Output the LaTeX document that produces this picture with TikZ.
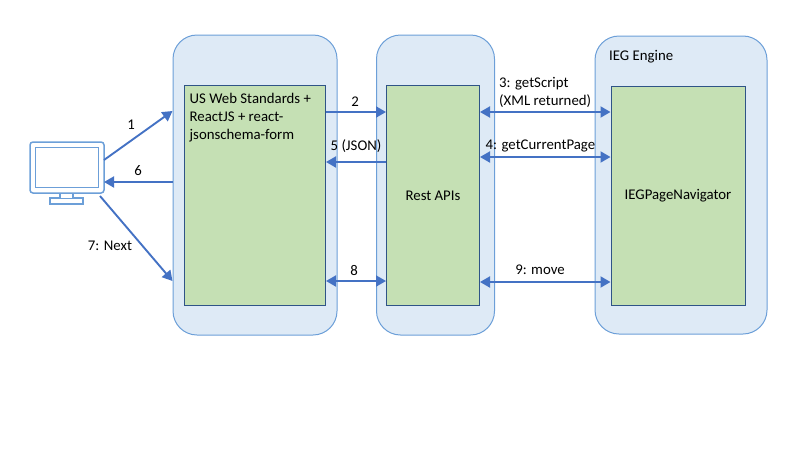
\documentclass[tikz,border=0pt]{standalone}
\usepackage{fontspec}
\setmainfont{Carlito}
\usetikzlibrary{positioning, arrows.meta}
\definecolor{outerfill}{HTML}{DEEAF6}
\definecolor{outerline}{HTML}{6C9FD8}
\definecolor{innerfill}{HTML}{C5E0B4}
\definecolor{innerline}{HTML}{2F5487}
\definecolor{flowline}{HTML}{4472C4}

\begin{document}
\begin{tikzpicture}[
            x=1pt, y=1pt,
            >={Triangle[length=10pt, width=11pt]},
            % Styles
            outer/.style={rectangle, draw=outerline, fill=outerfill, line width=1pt, rounded corners=24pt, inner sep=0pt},
            inner/.style={rectangle, draw=innerline, fill=innerfill, line width=1pt, inner sep=0pt, font=\fontsize{14.8}{18}\selectfont},
            flow/.style={draw=flowline, line width=1.9pt},
            tag/.style={inner sep=0pt, font=\fontsize{14.8}{18}\selectfont, align=left},
            device/.style={rectangle, draw=outerline, fill=white, line width=1.5pt, inner sep=0pt}
          ]
          \useasboundingbox (0,0) rectangle (800,-450);
          % 1. Outer panels
          \node[outer, minimum width=164pt, minimum height=300pt] (webpanel) at (255,-185) {};
          \node[outer, minimum width=118pt, minimum height=300pt] (restpanel) at (435.5,-185) {};
          \node[outer, minimum width=172pt, minimum height=298pt] (iegpanel) at (681,-185) {};
          % 2. Inner boxes
          \node[inner, minimum width=141pt, minimum height=220pt] (web) at (255,-195.5) {};
          \node[inner, minimum width=93pt, minimum height=220pt] (rest) at (433,-195.5) {Rest APIs};
          \node[inner, minimum width=134pt, minimum height=219pt] (ieg) at (678,-196) {IEGPageNavigator};
          \node[tag, below right=8pt and 5.5pt of web.north west, anchor=north west] (webtext) {US Web Standards +\\ReactJS + react-\\jsonschema-form};
          \node[tag, anchor=north west] (iegtext) at (609,-50) {IEG Engine};
          % 3. Monitor
          \node[device, minimum width=33pt, minimum height=6pt] (foot) at (66.5,-201) {};
          \node[device, minimum width=13pt, minimum height=7pt] (neck) at (66.5,-195) {};
          \node[device, rounded corners=3pt, minimum width=74pt, minimum height=51pt] (monitor) at (67,-167.5) {};
          \node[device, minimum width=63pt, minimum height=40pt] (screen) at (67,-167.5) {};
          % --- Rows ---
          \coordinate (row1) at (0,-111);
          \coordinate (row2) at (0,-112);
          \coordinate (row3) at (0,-112);
          \coordinate (row4) at (0,-157);
          \coordinate (row5) at (0,-162);
          \coordinate (row6) at (0,-182);
          \coordinate (row7) at (0,-281);
          \coordinate (row8) at (0,-281);
          \coordinate (row9) at (0,-282);
          \coordinate (m1) at (104,-160);
          \coordinate (m6) at (104,-182);
          \coordinate (m7) at (100,-196);
          % --- Connections ---
          \draw[flow, ->] (m1) -- (webpanel.west |- row1);
          \draw[flow, ->] (webpanel.west |- row6) -- (m6);
          \draw[flow, ->] (m7) -- (webpanel.west |- row7);
          \draw[flow, ->] (web.east |- row2) -- (rest.west |- row2);
          \draw[flow, ->] (rest.west |- row5) -- (web.east |- row5);
          \draw[flow, <->] (web.east |- row8) -- (rest.west |- row8);
          \foreach \i in {3,4,9} {
            \draw[flow, <->] (rest.east |- row\i) -- (ieg.west |- row\i);
          }
          % --- Labels ---
          \node[tag] (lab1) at (131,-125) {1};
          \node[tag] (lab2) at (355,-102) {2};
          \node[tag, anchor=west] (lab3) at (499,-92) {3: getScript\\(XML returned)};
          \node[tag, anchor=west] (lab4) at (485.5,-146) {4: getCurrentPage};
          \node[tag] (lab5) at (356,-146) {5 (JSON)};
          \node[tag] (lab6) at (138,-171) {6};
          \node[tag] (lab7) at (110,-246) {7: Next};
          \node[tag] (lab8) at (354,-270) {8};
          \node[tag] (lab9) at (540,-270) {9: move};
        \end{tikzpicture}
\end{document}
